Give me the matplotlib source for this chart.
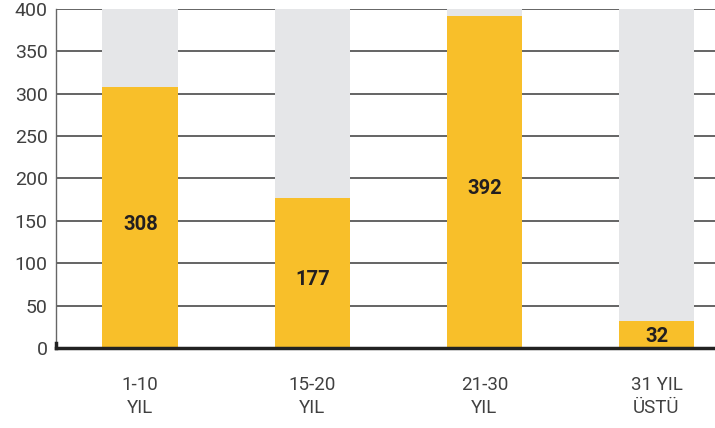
import matplotlib
matplotlib.use("Agg")
import matplotlib.pyplot as plt

categories = ["1-10\nYIL", "15-20\nYIL", "21-30\nYIL", "31 YIL\nÜSTÜ"]
values = [308, 177, 392, 32]
background_max = 400
yticks = [0, 50, 100, 150, 200, 250, 300, 350, 400]

plt.rcParams['font.family'] = ['Roboto', 'DejaVu Sans']

fig = plt.figure(figsize=(7.15, 4.28), dpi=100)
ax = fig.add_axes([0.0783, 0.187, 0.9217, 0.792])

x = list(range(len(categories)))
width = 0.44
ax.bar(x, [background_max] * len(x), width=width, color="#e5e6e8", zorder=2)
ax.bar(x, values, width=width, color="#f8bf2a", zorder=3)

for xi, v in zip(x, values):
    ypos = max(v / 2 - 8, 14)
    ax.text(xi, ypos, str(v), ha="center", va="center", fontsize=14.5,
            fontweight="bold", color="#231f20", zorder=4)

ax.set_ylim(0, 400)
ax.set_xlim(-0.49, 3.34)
ax.set_yticks(yticks)
ax.set_yticklabels([str(t) for t in yticks], fontsize=14, color="#404040")
ax.set_xticks(x)
ax.set_xticklabels(categories, fontsize=13.5, color="#404040", linespacing=1.3)
ax.tick_params(axis="both", length=0, pad=6)
ax.tick_params(axis="x", pad=20.5)

ax.yaxis.grid(True, color="#4a4a4a", linewidth=1.2, zorder=1)
ax.set_axisbelow(True)

for s in ["top", "right"]:
    ax.spines[s].set_visible(False)
ax.spines["left"].set_color("#666666")
ax.spines["left"].set_linewidth(1.0)
ax.spines["bottom"].set_color("#222222")
ax.spines["bottom"].set_linewidth(2.5)
ax.spines["bottom"].set_zorder(5)
ax.axvline(-0.49, ymin=0, ymax=0.016, color="#222222", linewidth=2.5,
           zorder=6, clip_on=False)

fig.savefig("out.png", dpi=100)
